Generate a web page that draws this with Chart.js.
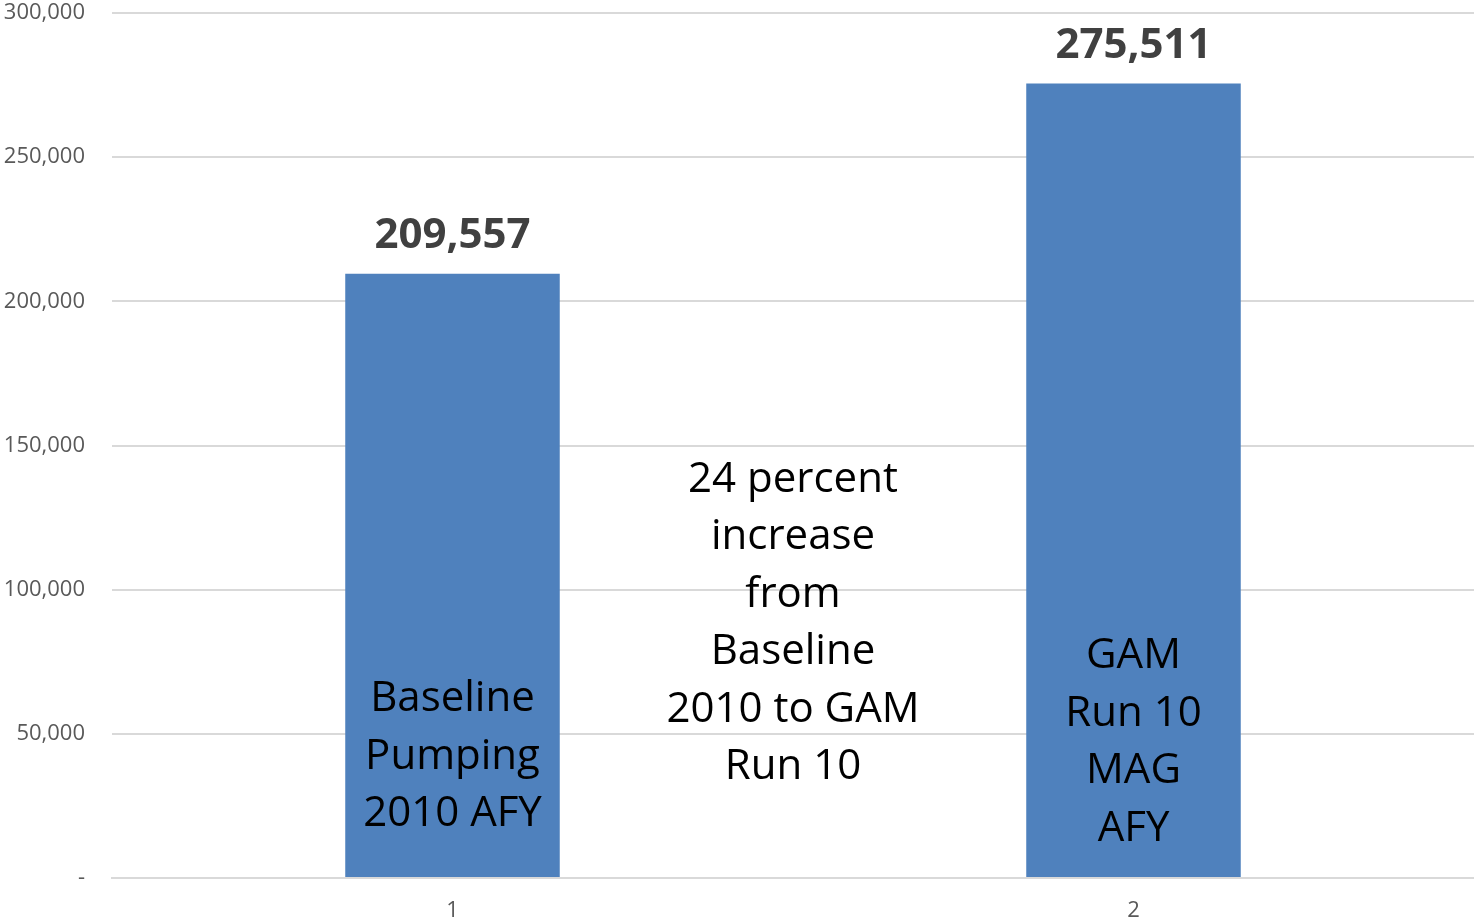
<!DOCTYPE html>
<html>
<head>
<meta charset="utf-8">
<style>
  html, body { margin: 0; padding: 0; background: #ffffff; }
  #wrap { width: 1474px; height: 918px; position: relative; }
</style>
<script src="https://cdn.jsdelivr.net/npm/chart.js@4"></script>
</head>
<body>
<div id="wrap"><canvas id="chart"></canvas></div>
<script>
// ─── Data ───
var categories = ['1', '2'];
var pumpingAFY = [209557, 275511];
var yTicks = [0, 50000, 100000, 150000, 200000, 250000, 300000];

// text inside each bar, and the note between the bars
var barNotes = [
  ['Baseline', 'Pumping', '2010 AFY'],
  ['GAM', 'Run 10', 'MAG', 'AFY']
];
var barNoteCenter = [42000, 46900];       // value on the y axis at the centre of each note
var middleNote = ['24 percent', 'increase', 'from', 'Baseline', '2010 to GAM', 'Run 10'];
var middleNoteCenter = 88300;

var colors = {
  bar: '#4F81BD',
  grid: '#d9d9d9',
  tick: '#595959',
  value: '#404040',
  text: '#000000'
};
var fontFamily = "'Open Sans', 'Noto Sans', sans-serif";

// ─── Labels plugin ───
var labelsPlugin = {
  id: 'barLabels',
  afterDatasetsDraw: function (chart) {
    var ctx = chart.ctx;
    var meta = chart.getDatasetMeta(0);
    var x = chart.scales.x;
    var y = chart.scales.y;
    var lineH = 57.5;

    ctx.save();
    ctx.textAlign = 'center';
    ctx.textBaseline = 'middle';

    // values above bars
    ctx.fillStyle = colors.value;
    ctx.font = 'bold 42px ' + fontFamily;
    meta.data.forEach(function (bar, i) {
      ctx.fillText(pumpingAFY[i].toLocaleString('en-US'), bar.x, bar.y - 38);
    });

    function drawLines(lines, cx, centerVal) {
      var cy = y.getPixelForValue(centerVal);
      var top = cy - (lines.length - 1) * lineH / 2;
      lines.forEach(function (t, k) {
        ctx.fillText(t, cx, top + k * lineH);
      });
    }

    ctx.fillStyle = colors.text;
    ctx.font = '42px ' + fontFamily;
    meta.data.forEach(function (bar, i) {
      drawLines(barNotes[i], bar.x, barNoteCenter[i]);
    });
    var midX = (x.getPixelForValue(0) + x.getPixelForValue(1)) / 2;
    drawLines(middleNote, midX, middleNoteCenter);

    ctx.restore();
  }
};

new Chart(document.getElementById('chart'), {
  type: 'bar',
  data: {
    labels: categories,
    datasets: [{
      data: pumpingAFY,
      backgroundColor: colors.bar,
      borderWidth: 0,
      barPercentage: 1,
      categoryPercentage: 0.315
    }]
  },
  options: {
    responsive: true,
    maintainAspectRatio: false,
    animation: false,
    layout: { padding: { top: 13, right: 0, left: 0, bottom: 0 } },
    plugins: {
      legend: { display: false },
      tooltip: { enabled: false }
    },
    scales: {
      x: {
        afterFit: function (scale) { scale.height = 40; },
        grid: { display: false, drawTicks: false },
        border: { color: colors.grid, width: 2 },
        ticks: {
          color: colors.tick,
          font: { family: fontFamily, size: 22 },
          padding: 20
        }
      },
      y: {
        min: 0,
        max: 300000,
        afterFit: function (scale) {
          scale.width = 112;
          scale.paddingTop = 0;
          scale.paddingBottom = 0;
        },
        afterBuildTicks: function (scale) {
          scale.ticks = yTicks.map(function (v) { return { value: v }; });
        },
        grid: { color: colors.grid, lineWidth: 2, drawTicks: false },
        border: { display: false },
        ticks: {
          color: colors.tick,
          font: { family: fontFamily, size: 22 },
          padding: 27,
          callback: function (v) {
            return v === 0 ? '-' : v.toLocaleString('en-US');
          }
        }
      }
    }
  },
  plugins: [labelsPlugin]
});
</script>
</body>
</html>
